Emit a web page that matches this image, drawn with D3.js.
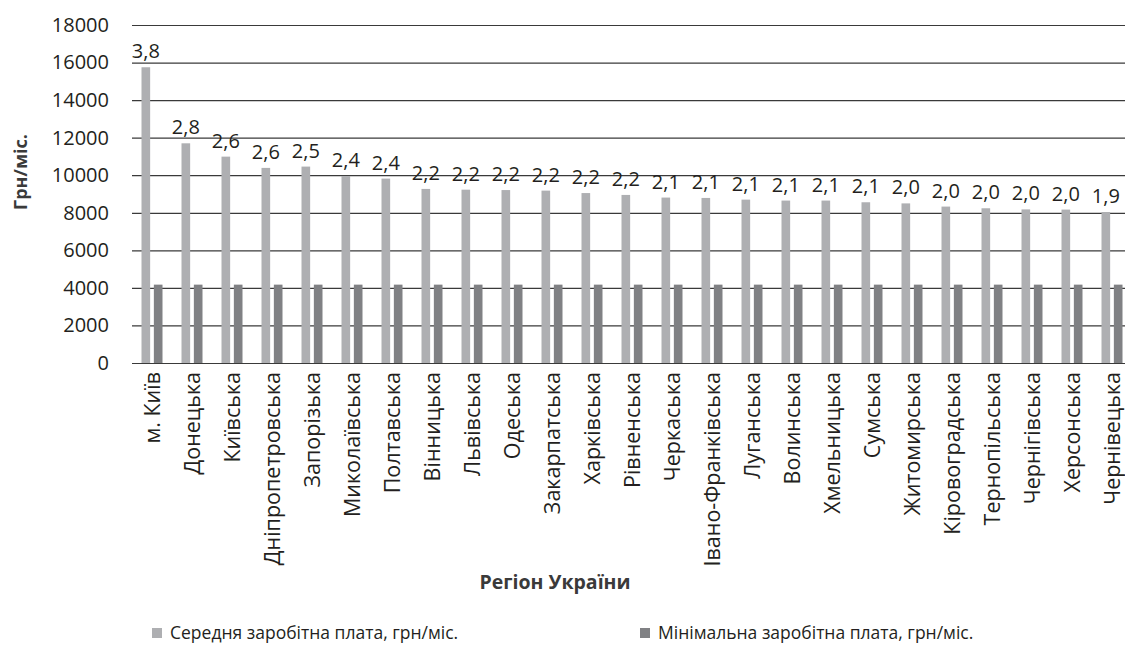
<!DOCTYPE html>
<html>
<head>
<meta charset="utf-8">
<script src="https://cdn.jsdelivr.net/npm/d3@7"></script>
<style>
  html, body { margin: 0; padding: 0; background: #fff; }
  svg { display: block; font-family: "Open Sans", "Noto Sans", sans-serif; }
</style>
</head>
<body>
<svg id="chart" width="1125" height="646"></svg>
<script>
const categories = ["м. Київ","Донецька","Київська","Дніпропетровська","Запорізька","Миколаївська","Полтавська","Вінницька","Львівська","Одеська","Закарпатська","Харківська","Рівненська","Черкаська","Івано-Франківська","Луганська","Волинська","Хмельницька","Сумська","Житомирська","Кіровоградська","Тернопільська","Чернігівська","Херсонська","Чернівецька"];
const avgWage = [15750, 11700, 10990, 10390, 10460, 9960, 9820, 9270, 9230, 9210, 9180, 9050, 8950, 8810, 8790, 8700, 8650, 8650, 8560, 8500, 8330, 8240, 8180, 8170, 8040];
const minWage = [4173, 4173, 4173, 4173, 4173, 4173, 4173, 4173, 4173, 4173, 4173, 4173, 4173, 4173, 4173, 4173, 4173, 4173, 4173, 4173, 4173, 4173, 4173, 4173, 4173];
const ratioLabels = ["3,8","2,8","2,6","2,6","2,5","2,4","2,4","2,2","2,2","2,2","2,2","2,2","2,2","2,1","2,1","2,1","2,1","2,1","2,1","2,0","2,0","2,0","2,0","2,0","1,9"];
const yTicks = [0, 2000, 4000, 6000, 8000, 10000, 12000, 14000, 16000, 18000];
const seriesNames = ["Середня заробітна плата, грн/міс.", "Мінімальна заробітна плата, грн/міс."];
const seriesKeys = ["avg", "min"];
const colors = { avg: "#aeafb2", min: "#808184" };
const textColor = "#231f20";

const svg = d3.select("#chart");
const mLeft = 132, mRight = 1132, mTop = 25, mBottom = 363;

const x = d3.scaleBand().domain(categories).range([mLeft, mRight]).paddingInner(0).paddingOuter(0);
const x1 = d3.scaleBand().domain(seriesKeys).range([9.5, 30.5]).paddingInner(0.3);
const y = d3.scaleLinear().domain([0, 18000]).range([mBottom, mTop]);

// gridlines
const yAxis = d3.axisLeft(y).tickValues(yTicks).tickSize(-(1125 - mLeft)).tickPadding(23).tickFormat(d3.format("d"));
const gy = svg.append("g").attr("transform", `translate(${mLeft},0)`).call(yAxis);
gy.select(".domain").remove();
gy.selectAll(".tick line").attr("stroke", "#3a3a3a").attr("stroke-width", 1.2);
gy.selectAll(".tick text").attr("font-size", 20).attr("fill", textColor).attr("font-family", "Open Sans");

const data = categories.map((c, i) => ({ c, avg: avgWage[i], min: minWage[i], label: ratioLabels[i] }));

const groups = svg.append("g").selectAll("g").data(data).join("g")
  .attr("transform", d => `translate(${x(d.c)},0)`);

groups.selectAll("rect").data(d => seriesKeys.map(k => ({ k, v: d[k] }))).join("rect")
  .attr("x", d => x1(d.k))
  .attr("width", x1.bandwidth())
  .attr("y", d => y(d.v))
  .attr("height", d => y(0) - y(d.v))
  .attr("fill", d => colors[d.k]);

groups.append("text")
  .attr("x", x1("avg") + x1.bandwidth() / 2)
  .attr("y", d => y(d.avg) - 9)
  .attr("text-anchor", "middle")
  .attr("font-size", 20)
  .attr("fill", textColor)
  .text(d => d.label);

// x axis category labels
const xAxis = d3.axisBottom(x).tickSize(0).tickPadding(0);
const gx = svg.append("g").attr("transform", `translate(0,${mBottom})`).call(xAxis);
gx.select(".domain").remove();
gx.selectAll(".tick text")
  .attr("font-size", 21.5)
  .attr("fill", textColor)
  .attr("font-family", "Open Sans")
  .attr("text-anchor", "end")
  .attr("transform", "translate(0,9) rotate(-90)")
  .attr("x", 0).attr("y", 0).attr("dy", "0.35em");

// axis titles
svg.append("text")
  .attr("transform", "translate(21,172) rotate(-90)")
  .attr("text-anchor", "middle").attr("dy", "0.35em")
  .attr("font-size", 18).attr("font-weight", "bold").attr("fill", "#3a3a3a")
  .text("Грн/міс.");

svg.append("text")
  .attr("x", 555).attr("y", 589)
  .attr("text-anchor", "middle")
  .attr("font-size", 19.5).attr("font-weight", "bold").attr("fill", "#3a3a3a")
  .text("Регіон України");

// legend
const legendX = [152, 640];
const lg = svg.append("g").selectAll("g").data(seriesKeys).join("g")
  .attr("transform", (d, i) => `translate(${legendX[i]},628)`);
lg.append("rect").attr("width", 10).attr("height", 10).attr("fill", d => colors[d]);
lg.append("text").attr("x", 18).attr("y", 5).attr("dy", "0.35em")
  .attr("font-size", 17.5).attr("fill", textColor)
  .text((d, i) => seriesNames[i]);
</script>
</body>
</html>
